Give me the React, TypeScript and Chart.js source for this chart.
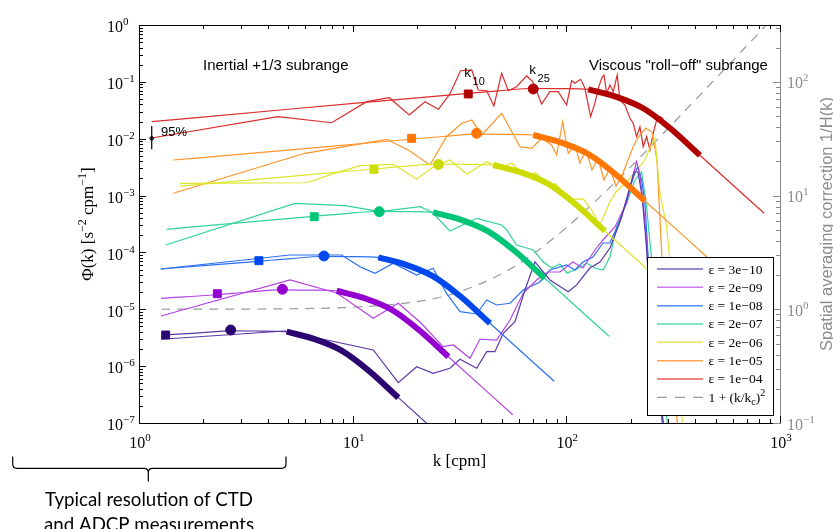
import React, { useEffect, useRef } from "react";
import Chart from "chart.js/auto";

// ---------------- DATA ----------------
const legendLabels = ["ε = 3e−10", "ε = 2e−09", "ε = 1e−08", "ε = 2e−07", "ε = 2e−06", "ε = 1e−05", "ε = 1e−04"];

// observed spectra (k in cpm, Φ in s^-2 cpm^-1)
const obsK_3e10 = [1.268, 4.82, 12.49, 16.35, 19.93, 23.8, 28.5, 31.8, 38.05, 42.4, 46.3, 50.7, 57.5, 64.0, 71.3, 83.8, 102.1, 111.7, 128.9, 143.6, 160, 178.2, 194.2, 207.2, 216.3, 225.8, 235.8, 246.1, 265.5, 286.2];
const obsPhi_3e10 = [2.97e-6, 4.15e-6, 1.924e-6, 5.12e-7, 9.78e-7, 7.49e-7, 9.17e-7, 1.32e-6, 9.17e-7, 1.796e-6, 1.796e-6, 3.78e-6, 6.05e-6, 2.18e-5, 6.79e-5, 3.28e-5, 2.04e-5, 2.68e-5, 5.32e-5, 6.79e-5, 1.197e-4, 3.43e-4, 1.024e-3, 2.6e-3, 2.6e-3, 1.024e-3, 1.655e-4, 1.457e-5, 5.71e-7, 7.5e-8];

const obsK_2e9 = [1.268, 5.09, 8.42, 12.49, 16.35, 20.65, 26.5, 29.6, 35.4, 39.4, 47.2, 54.5, 62.8, 72.6, 82.0, 93.3, 107.4, 119.6, 136.1, 148.4, 168.8, 191.5, 202.8, 213.3, 221, 230.7, 241, 259.8, 283];
const obsPhi_2e9 = [7.62e-6, 3.28e-5, 1.935e-5, 6.95e-6, 1.275e-5, 5.98e-6, 2.2e-6, 2.36e-6, 1.375e-6, 2.97e-6, 2.88e-6, 6.48e-6, 1.91e-5, 3.28e-5, 4.53e-5, 4.53e-5, 6.79e-5, 5.32e-5, 1.104e-4, 1.655e-4, 2.8e-4, 7.4e-4, 1.88e-3, 3.94e-3, 2.3e-3, 5.58e-4, 7.36e-5, 2.88e-6, 7.5e-8];

const obsK_1e8 = [1.264, 5.09, 8.88, 10.82, 12.72, 15.5, 19.93, 23.8, 27.5, 31.8, 38.05, 42.4, 47.2, 54.5, 62.8, 75.2, 83.8, 100.3, 109.7, 119.6, 133.2, 148.4, 160, 181.5, 194.8, 209.4, 215.6, 225.1, 233.2, 241.6, 262.6, 286.2];
const obsPhi_1e8 = [5.11e-5, 9.02e-5, 9.02e-5, 5.61e-5, 4.3e-5, 6.44e-5, 4.01e-5, 5.26e-5, 1.91e-5, 9.07e-6, 8.27e-6, 1.457e-5, 1.19e-5, 1.275e-5, 2.18e-5, 3.02e-5, 4.91e-5, 6.01e-5, 4.91e-5, 6.79e-5, 8.31e-5, 1.466e-4, 1.466e-4, 4.2e-4, 1.11e-3, 2.5e-3, 3.22e-3, 1.88e-3, 7.4e-4, 8.31e-5, 2.88e-6, 7.5e-8];

const obsK_2e7 = [1.333, 5.37, 9.2, 13.42, 20.65, 23.5, 28.5, 38.05, 49.8, 52.6, 58.5, 70.0, 78.0, 85.6, 93.3, 100.6, 109.7, 124.5, 136.1, 148.8, 160, 172, 191.5, 209.4, 225.1, 237.5, 250.8, 274.2, 298.8];
const obsPhi_2e7 = [1.351e-4, 7.31e-4, 6.64e-4, 5.21e-4, 6.37e-4, 5.14e-4, 2.38e-4, 3.98e-4, 3.04e-4, 2.48e-4, 1.351e-4, 1.104e-4, 6.79e-5, 5.32e-5, 6.26e-5, 4.35e-5, 4.91e-5, 6.44e-5, 5.32e-5, 4.91e-5, 8.41e-5, 2.84e-4, 7.31e-4, 1.88e-3, 2.6e-3, 6.37e-4, 7.36e-5, 2.88e-6, 7.5e-8];

const obsK_2e6 = [1.555, 6.09, 8.42, 10.82, 15.5, 19.93, 23.8, 28.5, 34.2, 42.4, 48.9, 55.6, 63.3, 72.1, 80.9, 89.4, 98.5, 105.9, 120.0, 131.3, 143.6, 160, 170.7, 191.5, 213.3, 233.2, 246.1, 259.8, 274.2, 294.7, 305.3, 325.8, 351];
const obsPhi_2e6 = [1.64e-3, 1.68e-3, 2.53e-3, 3.35e-3, 3.55e-3, 1.96e-3, 3.18e-3, 4.22e-3, 2.4e-3, 3.94e-3, 3.05e-3, 3.74e-3, 2.21e-3, 2.5e-3, 1.53e-3, 1.6e-3, 9.83e-4, 8.6e-4, 8.71e-4, 5.58e-4, 3.04e-4, 7.8e-4, 1.156e-3, 1.73e-3, 2.82e-3, 4.22e-3, 6.87e-3, 1.017e-2, 1.11e-3, 2.84e-4, 7.36e-5, 4.33e-6, 7.5e-8];

const obsK_1e5 = [1.447, 5.98, 14.42, 18.2, 23.0, 27.5, 32.4, 36.1, 40.2, 49.8, 60.7, 68.8, 76.6, 85.3, 90.1, 96.1, 102.1, 109.7, 115.8, 123.5, 131.8, 140.6, 150, 160, 170.7, 182.0, 194.2, 207.2, 221, 235.8, 251.6, 265.5, 280.2, 305.3, 333];
const obsPhi_1e5 = [1.097e-3, 5.54e-3, 9.77e-3, 6.33e-3, 3.45e-3, 1.085e-2, 1.87e-2, 2.13e-2, 1.163e-2, 2.8e-2, 7.24e-3, 6.78e-3, 1.017e-2, 7.76e-3, 5.17e-3, 1.99e-2, 5.54e-3, 7.76e-3, 3.74e-3, 6.33e-3, 2.82e-3, 4.58e-3, 1.88e-3, 3.05e-3, 1.47e-3, 2.21e-3, 4.22e-3, 7.76e-3, 1.163e-2, 1.543e-2, 1.313e-2, 4.22e-3, 8.31e-5, 2.88e-6, 7.5e-8];

const obsK_1e4 = [1.147, 4.47, 7.97, 11.63, 14.84, 18.4, 21.8, 25.2, 28.5, 32.0, 36.1, 38.7, 42.4, 45.8, 49.8, 53.5, 58.5, 65.2, 69.6, 76.6, 83.8, 91.6, 100.3, 105.9, 109.7, 116.7, 122.2, 129.9, 136.1, 141.1, 146.3, 150.0, 154.4, 160.0, 165.8, 173.0, 178.2, 188.0, 198.5, 205.6, 213.3, 221.0, 229.0, 237.5, 246.1, 255.0, 264.6, 274.2, 284.1];
const obsPhi_1e4 = [1.03e-2, 2.44e-2, 1.91e-2, 4.48e-2, 5.26e-2, 2.61e-2, 4.48e-2, 3.29e-2, 6.12e-2, 0.157, 0.162, 7.19e-2, 6.99e-2, 3.76e-2, 0.141, 6.99e-2, 8.22e-2, 0.127, 0.101, 4.08e-2, 6.71e-2, 6.71e-2, 3.92e-2, 0.105, 9.43e-2, 0.111, 7.7e-2, 2.44e-2, 4.25e-2, 7.7e-2, 0.116, 0.132, 6.3e-2, 8.81e-2, 6.71e-2, 0.132, 4.8e-2, 3.92e-2, 2.29e-2, 1.87e-2, 1.085e-2, 1.63e-2, 7.24e-3, 1.085e-2, 6.33e-3, 1.245e-2, 2.13e-2, 2.44e-2, 2.29e-2];

// model spectra
const modelK_3e10 = [1.277, 1.862, 2.715, 3.751, 4.91, 6.64, 8.88, 11.88, 16.36, 32.7];
const modelPhi_3e10 = [3.53e-6, 3.8e-6, 4.17e-6, 4.14e-6, 4.04e-6, 2.98e-6, 1.872e-6, 8.33e-7, 2.79e-7, 2.66e-8];
const modelK_2e9 = [1.268, 2.311, 3.193, 4.655, 6.43, 8.42, 11.38, 15.23, 20.37, 28.06, 56.1];
const modelPhi_2e9 = [1.56e-5, 1.803e-5, 1.995e-5, 2.19e-5, 2.17e-5, 2.12e-5, 1.565e-5, 9.82e-6, 4.37e-6, 1.465e-6, 1.398e-7];
const modelK_1e8 = [1.264, 3.62, 5.0, 7.29, 10.07, 13.18, 17.82, 23.84, 31.9, 43.9, 87.8];
const modelPhi_1e8 = [5.11e-5, 6.98e-5, 7.73e-5, 8.48e-5, 8.42e-5, 8.21e-5, 6.06e-5, 3.8e-5, 1.692e-5, 5.67e-6, 5.41e-7];
const modelK_2e7 = [1.348, 2.758, 6.53, 9.03, 13.16, 18.18, 23.8, 32.2, 43.1, 57.6, 79.3, 158.6];
const modelPhi_2e7 = [2.55e-4, 3.24e-4, 4.32e-4, 4.78e-4, 5.25e-4, 5.21e-4, 5.08e-4, 3.75e-4, 2.35e-4, 1.047e-4, 3.51e-5, 3.35e-6];
const modelK_2e6 = [1.555, 5.27, 12.49, 17.25, 25.2, 34.8, 45.5, 61.5, 82.3, 110.1, 151.6, 303];
const modelPhi_2e6 = [1.47e-3, 2.2e-3, 2.93e-3, 3.25e-3, 3.56e-3, 3.54e-3, 3.45e-3, 2.55e-3, 1.6e-3, 7.11e-4, 2.38e-4, 2.27e-5];
const modelK_1e5 = [1.447, 2.763, 8.11, 19.2, 26.5, 38.7, 53.5, 70.0, 94.6, 126.6, 169.3, 233.2, 466];
const modelPhi_1e5 = [4.22e-3, 5.18e-3, 7.42e-3, 9.89e-3, 1.094e-2, 1.201e-2, 1.192e-2, 1.163e-2, 8.58e-3, 5.39e-3, 2.4e-3, 8.04e-4, 7.67e-5];
const modelK_1e4 = [1.147, 5.0, 14.67, 34.75, 48.0, 70.0, 96.7, 126.6, 171.2, 229.0, 306.2, 421.8, 843];
const modelPhi_1e4 = [0.01993, 0.03297, 0.0472, 0.0629, 0.0696, 0.0764, 0.0759, 0.074, 0.0546, 0.0343, 0.01525, 0.00511, 0.000488];

// index range (into the model arrays) of the highlighted part of each model
const thickFrom = [4, 5, 5, 6, 6, 7, 7];
const thickTo = [8, 9, 9, 10, 10, 11, 11];

// k10 (squares) and k25 (circles)
const k10K = [1.333, 2.325, 3.64, 6.61, 12.58, 18.88, 34.75];
const k10Phi = [3.53e-6, 1.88e-5, 7.16e-5, 4.25e-4, 2.9e-3, 1.017e-2, 0.0612];
const k25K = [2.686, 4.69, 7.34, 13.32, 25.2, 38.05, 70.0];
const k25Phi = [4.32e-6, 2.25e-5, 8.66e-5, 5.21e-4, 3.52e-3, 1.245e-2, 0.0749];

// spatial averaging correction 1 + (k/kc)^2 (right axis)
const corrK = [1.27, 5, 10, 20, 30, 50, 70, 100, 150, 200, 300, 500, 700, 1000];
const corrVal = [1.0007, 1.011, 1.042, 1.17, 1.38, 2.06, 3.07, 5.23, 10.5, 17.9, 39.1, 107, 208, 424];

// 95% confidence bar
const ciK = [1.147, 1.147];
const ciPhi = [6.52e-3, 1.675e-2];
const ciMidPhi = [1.016e-2];

// tick decades
const xDecades = [0, 1, 2, 3];
const yDecades = [-7, -6, -5, -4, -3, -2, -1, 0];
const y2Decades = [-1, 0, 1, 2];

// ---------------- STYLE ----------------
const thinColors = ["#5a38a8", "#b444e8", "#2a70f4", "#30d29c", "#dde62c", "#ff9428", "#dc2c2c"];
const thickColors = ["#2c0670", "#9400d0", "#0048ee", "#00c476", "#cddc00", "#ff7600", "#b00000"];
const legendColors = ["#7b61c4", "#cc7cf2", "#4f8ef6", "#55deaa", "#e6e65a", "#ffa650", "#ea5a5a"];

const SERIF = '"Liberation Serif", "Times New Roman", serif';
const SANS = '"Liberation Sans", Arial, sans-serif';

const obsK = [obsK_3e10, obsK_2e9, obsK_1e8, obsK_2e7, obsK_2e6, obsK_1e5, obsK_1e4];
const obsPhi = [obsPhi_3e10, obsPhi_2e9, obsPhi_1e8, obsPhi_2e7, obsPhi_2e6, obsPhi_1e5, obsPhi_1e4];
const modelK = [modelK_3e10, modelK_2e9, modelK_1e8, modelK_2e7, modelK_2e6, modelK_1e5, modelK_1e4];
const modelPhi = [modelPhi_3e10, modelPhi_2e9, modelPhi_1e8, modelPhi_2e7, modelPhi_2e6, modelPhi_1e5, modelPhi_1e4];

function zip(xs: number[], ys: number[]) {
  const n = Math.min(xs.length, ys.length);
  const out: { x: number; y: number }[] = [];
  for (let i = 0; i < n; i++) out.push({ x: xs[i], y: ys[i] });
  return out;
}

type Part = { text: string; font: string; dy?: number };
function partsWidth(ctx: any, parts: Part[]) {
  let w = 0;
  for (const p of parts) { ctx.font = p.font; w += ctx.measureText(p.text).width; }
  return w;
}
function drawParts(ctx: any, parts: Part[], x: number, y: number) {
  let cx = x;
  for (const p of parts) {
    ctx.font = p.font;
    ctx.fillText(p.text, cx, y + (p.dy || 0));
    cx += ctx.measureText(p.text).width;
  }
}
function powParts(e: number): Part[] {
  return [
    { text: "10", font: `16px ${SERIF}` },
    { text: e < 0 ? "\u2212" + String(-e) : String(e), font: `11px ${SERIF}`, dy: -7 },
  ];
}

const decorPlugin = {
  id: "decor",
  afterDatasetsDraw(chart: any) {
    const ctx = chart.ctx;
    const { left, right, top, bottom } = chart.chartArea;
    const xs = chart.scales.x, ys = chart.scales.y, y2 = chart.scales.y2;
    ctx.save();
    ctx.textAlign = "left";
    ctx.textBaseline = "alphabetic";

    // box
    ctx.lineWidth = 1;
    ctx.strokeStyle = "#000";
    ctx.beginPath();
    ctx.moveTo(left + 0.5, bottom + 0.5); ctx.lineTo(left + 0.5, top + 0.5); ctx.lineTo(right + 0.5, top + 0.5);
    ctx.moveTo(left + 0.5, bottom + 0.5); ctx.lineTo(right + 0.5, bottom + 0.5);
    ctx.stroke();
    ctx.strokeStyle = "#8a8a8a";
    ctx.beginPath(); ctx.moveTo(right + 0.5, top + 0.5); ctx.lineTo(right + 0.5, bottom + 0.5); ctx.stroke();

    // x ticks (top and bottom, inward)
    ctx.strokeStyle = "#000";
    ctx.beginPath();
    for (const d of xDecades) {
      for (let m = 1; m <= 9; m++) {
        const v = m * Math.pow(10, d);
        if (v > 1000.0001) break;
        const px = Math.round(xs.getPixelForValue(v)) + 0.5;
        const len = m === 1 ? 7 : 4;
        ctx.moveTo(px, bottom); ctx.lineTo(px, bottom - len);
        ctx.moveTo(px, top); ctx.lineTo(px, top + len);
      }
    }
    // left y ticks
    for (const d of yDecades) {
      for (let m = 1; m <= 9; m++) {
        const v = m * Math.pow(10, d);
        if (v > 1.0001) break;
        const py = Math.round(ys.getPixelForValue(v)) + 0.5;
        const len = m === 1 ? 7 : 4;
        ctx.moveTo(left, py); ctx.lineTo(left + len, py);
      }
    }
    ctx.stroke();
    // right y ticks
    ctx.strokeStyle = "#8a8a8a";
    ctx.beginPath();
    for (const d of y2Decades) {
      for (let m = 1; m <= 9; m++) {
        const v = m * Math.pow(10, d);
        if (v > y2.max) break;
        const py = Math.round(y2.getPixelForValue(v)) + 0.5;
        const len = m === 1 ? 7 : 4;
        ctx.moveTo(right, py); ctx.lineTo(right - len, py);
      }
    }
    ctx.stroke();

    // tick labels
    ctx.fillStyle = "#000";
    for (const d of yDecades) {
      const py = ys.getPixelForValue(Math.pow(10, d));
      drawParts(ctx, powParts(d), 107, py + 7.3);
    }
    for (const d of xDecades) {
      const px = xs.getPixelForValue(Math.pow(10, d));
      const parts = powParts(d);
      const w = partsWidth(ctx, parts);
      drawParts(ctx, parts, px - w / 2 + 1, 448.3);
    }
    ctx.fillStyle = "#8a8a8a";
    for (const d of y2Decades) {
      const py = y2.getPixelForValue(Math.pow(10, d));
      drawParts(ctx, powParts(d), 787, py + 6.5);
    }

    // axis titles
    ctx.fillStyle = "#000";
    ctx.font = `17px ${SERIF}`;
    const xt = "k [cpm]";
    ctx.fillText(xt, (left + right) / 2 - ctx.measureText(xt).width / 2, 465.5);

    const yParts: Part[] = [
      { text: "Φ(k) [s", font: `17px ${SERIF}` },
      { text: "\u22122", font: `12px ${SERIF}`, dy: -7 },
      { text: " cpm", font: `17px ${SERIF}` },
      { text: "\u22121", font: `12px ${SERIF}`, dy: -7 },
      { text: "]", font: `17px ${SERIF}` },
    ];
    ctx.save();
    ctx.translate(93, (top + bottom) / 2);
    ctx.rotate(-Math.PI / 2);
    drawParts(ctx, yParts, -partsWidth(ctx, yParts) / 2, 0);
    ctx.restore();

    ctx.save();
    ctx.fillStyle = "#8c8c8c";
    ctx.font = `16.5px ${SANS}`;
    const rt = "Spatial averaging correction 1/H(k)";
    ctx.translate(832, (top + bottom) / 2);
    ctx.rotate(-Math.PI / 2);
    ctx.fillText(rt, -ctx.measureText(rt).width / 2, 0);
    ctx.restore();

    // annotations
    ctx.fillStyle = "#000";
    ctx.font = `15px ${SANS}`;
    ctx.fillText("Inertial +1/3 subrange", 203, 70);
    ctx.fillText("Viscous \"roll\u2212off\" subrange", 589, 70);
    ctx.font = `13px ${SANS}`;
    ctx.fillText("95%", 161, 135.5);
    // k10 / k25 labels
    ctx.font = `13.5px ${SANS}`;
    const kw = ctx.measureText("k").width;
    ctx.fillText("k", 464.3, 77.3);
    ctx.fillText("k", 529.3, 74);
    ctx.font = `11px ${SANS}`;
    ctx.fillText("10", 464.3 + kw + 1.5, 85);
    ctx.fillText("25", 529.3 + kw + 1.5, 81.7);

    // legend
    const lx0 = 647, ly0 = 257, lx1 = 773, ly1 = 415;
    ctx.fillStyle = "#fff";
    ctx.fillRect(lx0, ly0, lx1 - lx0, ly1 - ly0);
    ctx.strokeStyle = "#000";
    ctx.lineWidth = 1;
    ctx.strokeRect(lx0 + 0.5, ly0 + 0.5, lx1 - lx0, ly1 - ly0);
    const rowH = 18.33;
    for (let i = 0; i < legendLabels.length; i++) {
      const cy = 269 + i * rowH;
      ctx.strokeStyle = legendColors[i];
      ctx.lineWidth = 1.5;
      ctx.beginPath(); ctx.moveTo(657, cy); ctx.lineTo(703, cy); ctx.stroke();
      ctx.fillStyle = "#000";
      ctx.font = `13.5px ${SERIF}`;
      ctx.fillText(legendLabels[i], 708.5, cy + 4.5);
    }
    {
      const cy = 269 + 7 * rowH;
      ctx.strokeStyle = "#9a9a9a";
      ctx.lineWidth = 1.2;
      ctx.setLineDash([10, 8]);
      ctx.beginPath(); ctx.moveTo(657, cy); ctx.lineTo(703, cy); ctx.stroke();
      ctx.setLineDash([]);
      ctx.fillStyle = "#000";
      drawParts(ctx, [
        { text: "1 + (k/k", font: `13.5px ${SERIF}` },
        { text: "c", font: `10px ${SERIF}`, dy: 3.5 },
        { text: ")", font: `13.5px ${SERIF}` },
        { text: "2", font: `10px ${SERIF}`, dy: -6 },
      ], 708.5, cy + 4.5);
    }

    ctx.restore();
  },
  afterDraw(chart: any) {
    const ctx = chart.ctx;
    ctx.save();
    // brace below the axis
    ctx.strokeStyle = "#000";
    ctx.lineWidth = 1.2;
    ctx.beginPath();
    ctx.moveTo(12.7, 456.5);
    ctx.lineTo(12.7, 464);
    ctx.quadraticCurveTo(12.7, 468.3, 17, 468.3);
    ctx.lineTo(144, 468.3);
    ctx.quadraticCurveTo(148.3, 468.3, 148.3, 472.5);
    ctx.lineTo(148.3, 481.5);
    ctx.moveTo(148.3, 472.5);
    ctx.quadraticCurveTo(148.3, 468.3, 152.6, 468.3);
    ctx.lineTo(281.7, 468.3);
    ctx.quadraticCurveTo(286, 468.3, 286, 464);
    ctx.lineTo(286, 456.5);
    ctx.stroke();
    // caption
    const l1 = "Typical resolution of CTD";
    const l2 = "and ADCP measurements";
    ctx.font = `20px Lato, ${SANS}`;
    const w20 = ctx.measureText(l1).width;
    const size = (20 * 208) / w20;
    ctx.font = `${size.toFixed(2)}px Lato, ${SANS}`;
    ctx.fillStyle = "#000";
    ctx.fillText(l1, 149 - ctx.measureText(l1).width / 2, 505.5);
    ctx.fillText(l2, 149 - ctx.measureText(l2).width / 2, 530.5);
    ctx.restore();
  },
};

export default function App() {
  const ref = useRef<HTMLCanvasElement>(null);
  useEffect(() => {
    const datasets: any[] = [];
    for (let i = 0; i < 7; i++) {
      datasets.push({
        label: legendLabels[i] + " obs",
        data: zip(obsK[i], obsPhi[i]),
        showLine: true, borderColor: thinColors[i], borderWidth: 1.2, pointRadius: 0, tension: 0, order: 3,
      });
      const model = zip(modelK[i], modelPhi[i]);
      datasets.push({
        label: legendLabels[i] + " model",
        data: model,
        showLine: true, borderColor: thinColors[i], borderWidth: 1.2, pointRadius: 0,
        cubicInterpolationMode: "monotone", order: 2,
      });
      datasets.push({
        label: legendLabels[i] + " model (fit range)",
        data: model.slice(thickFrom[i], thickTo[i] + 1),
        showLine: true, borderColor: thickColors[i], borderWidth: 6, pointRadius: 0,
        cubicInterpolationMode: "monotone", order: 1,
      });
      datasets.push({
        label: legendLabels[i] + " k10",
        data: [{ x: k10K[i], y: k10Phi[i] }],
        showLine: false, pointStyle: "rect", pointRadius: 5.6, pointBorderWidth: 1,
        backgroundColor: thickColors[i], borderColor: thickColors[i], order: 0,
      });
      datasets.push({
        label: legendLabels[i] + " k25",
        data: [{ x: k25K[i], y: k25Phi[i] }],
        showLine: false, pointStyle: "circle", pointRadius: 5, pointBorderWidth: 1,
        backgroundColor: thickColors[i], borderColor: thickColors[i], order: 0,
      });
    }
    datasets.push({
      label: "1 + (k/kc)^2",
      data: zip(corrK, corrVal),
      yAxisID: "y2",
      showLine: true, borderColor: "#9a9a9a", borderWidth: 1.2, borderDash: [9, 7], pointRadius: 0,
      cubicInterpolationMode: "monotone", order: 4,
    });
    datasets.push({
      label: "95%",
      data: zip(ciK, ciPhi),
      showLine: true, borderColor: "#000", borderWidth: 1.2, pointRadius: 0, order: 0,
    });
    datasets.push({
      label: "95% mid",
      data: zip([ciK[0]], ciMidPhi),
      showLine: false, pointStyle: "circle", pointRadius: 1.8, pointBorderWidth: 1,
      backgroundColor: "#555", borderColor: "#000", order: 0,
    });

    const chart = new Chart(ref.current as HTMLCanvasElement, {
      type: "scatter",
      data: { datasets },
      options: {
        responsive: false,
        animation: false,
        events: [],
        layout: { padding: { left: 139, top: 25, right: 53, bottom: 106 } },
        plugins: { legend: { display: false }, tooltip: { enabled: false } },
        scales: {
          x: { type: "logarithmic", min: 1, max: 1000, display: false },
          y: { type: "logarithmic", min: 1e-7, max: 1, display: false, position: "left" },
          y2: { type: "logarithmic", min: 0.1, max: 316.23, display: false, position: "right" },
        },
      },
      plugins: [decorPlugin],
    } as any);
    return () => chart.destroy();
  }, []);
  return (
    <canvas
      ref={ref}
      width={833}
      height={529}
      style={{ position: "fixed", left: 0, top: 0, width: 833, height: 529, background: "#fff" }}
    />
  );
}
